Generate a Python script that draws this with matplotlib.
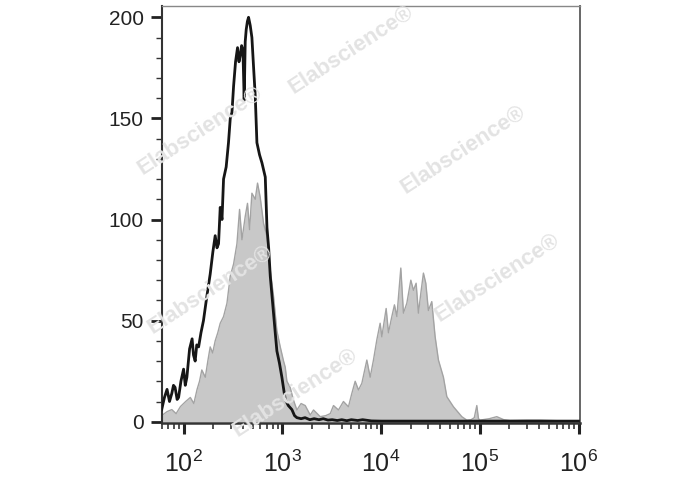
import numpy as np
import matplotlib.pyplot as plt
from matplotlib.ticker import LogLocator, NullFormatter, MultipleLocator

plt.rcParams['font.family'] = ['Liberation Sans', 'DejaVu Sans']
plt.rcParams['mathtext.fontset'] = 'custom'
plt.rcParams['mathtext.rm'] = 'Liberation Sans'

# control (black outline)
ctrl_x = [60, 64, 68, 72, 76, 79, 82, 86, 89, 94, 100, 104, 108, 115, 122, 126, 131, 136, 142,
          150, 159, 172, 186, 198, 209, 218, 226, 235, 245, 254, 270, 285, 297, 309, 321, 336,
          352, 364, 375, 387, 399, 411, 421, 431, 443, 455, 473, 492, 512, 532, 553, 588, 622,
          672, 699, 727, 755, 800, 848, 881, 935, 990, 1070, 1150, 1250, 1330, 1405, 1550, 1700,
          1900, 2100, 2350, 2600, 2900, 3200, 3600, 4000, 4500, 5000, 5800, 6500, 8000, 10000,
          100000, 1000000]
ctrl_y = [6, 12, 16, 10, 14, 18, 17, 11, 12, 20, 26, 18, 22, 36, 41, 33, 30, 38, 37,
          44, 50, 62, 73, 84, 92, 86, 88, 106, 100, 120, 126, 138, 150, 153, 166, 178,
          185, 178, 181, 186, 184, 159, 188, 194, 198, 200, 196, 190, 175, 161, 138, 132, 128,
          121, 96, 86, 72, 58, 44, 35, 29, 22, 11, 8, 6, 3, 2, 1.5, 2,
          1, 1.5, 1, 1.5, 0.8, 1, 0.6, 1, 0.5, 1, 0.6, 1, 0.4, 0.3,
          0.3, 0.3]

# stained sample (grey filled)
samp_x = [60, 68, 76, 84, 93, 105, 117, 127, 137, 145, 153, 166, 176, 186, 197, 209, 222, 235,
          254, 275, 297, 321, 347, 369, 390, 421, 444, 466, 492, 532, 561, 597, 646, 699, 755,
          815, 881, 953, 1029, 1070, 1113, 1200, 1297, 1405, 1550, 1706, 1918, 2071, 2421, 2750,
          3057, 3300, 3706, 4160, 4677, 5061, 5470, 5906, 6392, 7180, 7760, 8380, 9065, 9790,
          10180, 11265, 11890, 12860, 13670, 14460, 15860, 16860, 18240, 20030, 21290, 22660,
          23910, 25300, 26870, 28400, 30170, 32650, 35300, 38130, 42840, 46370, 54100, 65770,
          73840, 81600, 88000, 93300, 97000, 100700, 125000, 148600, 175000, 203000, 300000,
          407000, 600000, 1000000]
samp_y = [3, 5, 6, 4, 7.5, 10, 12, 9, 16, 20, 25.6, 22, 30, 37, 34, 40, 44, 48.7,
          52, 58.6, 72, 78, 88, 105, 90, 101.5, 108, 95, 113, 110, 118, 111, 98, 91.6, 75,
          62, 45, 37, 30, 27, 20, 17, 10.7, 5.8, 9, 8, 3.3, 5.8, 2.5, 3,
          4, 8, 5.8, 10, 7.4, 14, 20, 15.7, 19, 30.5, 22, 30.5, 40.5, 48.7,
          42, 56, 44, 52, 57.8, 52, 76, 53.7, 58.6, 70, 65, 68.5,
          53.7, 63.6, 73.5, 68.5, 55, 59.4, 42, 30.5, 22, 12.4, 7.4, 2.5,
          0.8, 1, 2, 8, 1.5, 0.8, 1.5, 2.5, 1, 0.6, 0.8,
          0.8, 0.5, 0.4]

xticks = [1e2, 1e3, 1e4, 1e5, 1e6]
xticklabels = [r'$\mathregular{10^{2}}$', r'$\mathregular{10^{3}}$', r'$\mathregular{10^{4}}$',
               r'$\mathregular{10^{5}}$', r'$\mathregular{10^{6}}$']
yticks = [0, 50, 100, 150, 200]

fig = plt.figure(figsize=(6.88, 4.9), dpi=100)
ax = fig.add_axes([0.235, 0.1367, 0.843 - 0.235, 0.9878 - 0.1367])

ax.fill_between(samp_x, 0, samp_y, color='#c8c8c8', lw=0, zorder=1)
ax.plot(samp_x, samp_y, color='#a3a3a3', lw=1.0, zorder=2)
ax.plot(ctrl_x, ctrl_y, color='#161616', lw=2.0, zorder=3)

ax.set_xscale('log')
ax.set_xlim(60, 1.035e6)
ax.set_ylim(-0.64, 205.6)

ax.set_xticks(xticks)
ax.set_xticklabels(xticklabels, fontsize=18)
ax.xaxis.set_minor_locator(LogLocator(base=10, subs=np.arange(2, 10), numticks=20))
ax.xaxis.set_minor_formatter(NullFormatter())
ax.set_yticks(yticks)
ax.set_yticklabels([str(v) for v in yticks], fontsize=15)
ax.yaxis.set_minor_locator(MultipleLocator(10))

ax.tick_params(axis='x', which='major', direction='out', length=8, width=2.2, pad=12, colors='#222222')
ax.tick_params(axis='x', which='minor', direction='out', length=4, width=1.2, colors='#333333')
ax.tick_params(axis='y', which='major', direction='out', length=8, width=2.0, pad=5, colors='#222222')
ax.tick_params(axis='y', which='minor', direction='out', length=4, width=1.0, colors='#333333')

ax.spines['left'].set_linewidth(1.5)
ax.spines['left'].set_color('#333333')
ax.spines['bottom'].set_linewidth(1.8)
ax.spines['bottom'].set_color('#333333')
ax.spines['top'].set_linewidth(1.0)
ax.spines['top'].set_color('#888888')
ax.spines['right'].set_linewidth(1.4)
ax.spines['right'].set_color('#666666')

# watermarks
marks = [(351, 50), (463, 150), (200, 131), (210, 290), (497, 278), (295, 393)]
for mx, my in marks:
    fig.text(mx / 688, 1 - my / 490, 'Elabscience\u00ae', fontsize=16, fontweight='bold',
             color='#e3e3e3', rotation=33, ha='center', va='center', zorder=10)

fig.savefig('out.png', dpi=100)
